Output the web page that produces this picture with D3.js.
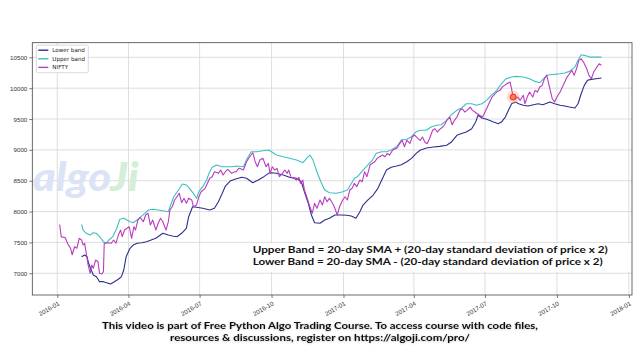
<!DOCTYPE html>
<html>
<head>
<meta charset="utf-8">
<script src="https://d3js.org/d3.v7.min.js"></script>
<style>
  body { margin: 0; background: #fff; }
  svg { display: block; }
</style>
</head>
<body>
<div id="chart"></div>
<script>
// ---- data ----
var niftyDates = ["2016-01-04","2016-01-06","2016-01-11","2016-01-15","2016-01-18","2016-01-20","2016-01-23","2016-01-26","2016-01-29",
  "2016-02-01","2016-02-03","2016-02-05","2016-02-07","2016-02-09","2016-02-12","2016-02-14","2016-02-16","2016-02-19","2016-02-22","2016-02-24","2016-02-27","2016-02-29",
  "2016-03-01","2016-03-06","2016-03-10","2016-03-13","2016-03-16","2016-03-19","2016-03-22","2016-03-24","2016-03-27","2016-03-30",
  "2016-04-02","2016-04-05","2016-04-08","2016-04-10","2016-04-13","2016-04-16","2016-04-20","2016-04-23","2016-04-26","2016-04-29",
  "2016-05-02","2016-05-06","2016-05-09","2016-05-12","2016-05-15","2016-05-19","2016-05-22","2016-05-24","2016-05-27","2016-05-30",
  "2016-06-02","2016-06-05","2016-06-08","2016-06-11","2016-06-14","2016-06-17","2016-06-21","2016-06-23","2016-06-27","2016-06-30",
  "2016-07-03","2016-07-08","2016-07-11","2016-07-14","2016-07-17","2016-07-20","2016-07-25","2016-07-28","2016-07-31",
  "2016-08-03","2016-08-06","2016-08-11","2016-08-15","2016-08-17","2016-08-19","2016-08-21","2016-08-26","2016-08-30",
  "2016-09-03","2016-09-07","2016-09-10","2016-09-13","2016-09-16","2016-09-20","2016-09-24","2016-09-27","2016-09-29",
  "2016-10-02","2016-10-05","2016-10-08","2016-10-11","2016-10-15","2016-10-18","2016-10-21","2016-10-23","2016-10-26","2016-10-29",
  "2016-11-02","2016-11-05","2016-11-07","2016-11-10","2016-11-12","2016-11-15","2016-11-19","2016-11-22","2016-11-25","2016-11-28",
  "2016-12-02","2016-12-05","2016-12-08","2016-12-11","2016-12-14","2016-12-18","2016-12-21","2016-12-24","2016-12-27","2016-12-31",
  "2017-01-03","2017-01-06","2017-01-09","2017-01-12","2017-01-15","2017-01-18","2017-01-22","2017-01-25","2017-01-28","2017-01-31",
  "2017-02-04","2017-02-07","2017-02-10","2017-02-13","2017-02-16","2017-02-20","2017-02-23","2017-02-26",
  "2017-03-01","2017-03-05","2017-03-10","2017-03-14","2017-03-17","2017-03-20","2017-03-23","2017-03-27","2017-03-30",
  "2017-04-02","2017-04-06","2017-04-09","2017-04-12","2017-04-15","2017-04-18","2017-04-21","2017-04-25","2017-04-28",
  "2017-05-01","2017-05-04","2017-05-08","2017-05-11","2017-05-13","2017-05-17","2017-05-20","2017-05-23","2017-05-26","2017-05-30",
  "2017-06-02","2017-06-05","2017-06-08","2017-06-12","2017-06-15","2017-06-18","2017-06-21","2017-06-24","2017-06-28",
  "2017-07-01","2017-07-04","2017-07-07","2017-07-10","2017-07-14","2017-07-16","2017-07-20","2017-07-23","2017-07-26","2017-07-29",
  "2017-08-02","2017-08-04","2017-08-06","2017-08-09","2017-08-12","2017-08-15","2017-08-19","2017-08-21","2017-08-24","2017-08-27","2017-08-31",
  "2017-09-03","2017-09-06","2017-09-09","2017-09-12","2017-09-15","2017-09-18","2017-09-22","2017-09-25","2017-09-28",
  "2017-10-01","2017-10-05","2017-10-08","2017-10-11","2017-10-14","2017-10-17","2017-10-20","2017-10-23","2017-10-26","2017-10-29",
  "2017-11-01","2017-11-04","2017-11-08","2017-11-11","2017-11-14","2017-11-17","2017-11-21","2017-11-24","2017-11-27"];
var niftyValues = [7790,7590,7580,7460,7405,7300,7430,7405,7567,
  7540,7458,7486,7324,7162,7000,7134,7081,7215,7188,7000,6989,7026,
  7486,7496,7486,7539,7486,7620,7701,7593,7701,7729,
  7755,7567,7755,7701,7863,7907,7836,7944,7972,7782,
  7863,7701,7810,7891,7836,7701,7836,8025,8079,8187,
  8241,8296,8144,8215,8134,8215,8187,8079,8106,8241,
  8322,8377,8458,8539,8565,8646,8620,8673,8592,
  8646,8685,8620,8646,8646,8685,8701,8673,8808,
  8889,8954,8808,8727,8835,8863,8727,8782,8620,
  8727,8673,8701,8565,8620,8673,8620,8673,8555,8539,
  8511,8555,8458,8511,8349,8241,8079,7972,8134,8053,
  8187,8106,8241,8160,8215,8134,8053,7944,8079,8187,
  8241,8187,8349,8377,8458,8403,8511,8484,8646,8565,
  8754,8782,8808,8863,8889,8916,8889,8944,
  8916,8997,9025,9106,9159,9051,9159,9106,9213,
  9240,9187,9155,9208,9127,9100,9181,9317,9343,
  9289,9333,9370,9424,9479,9532,9407,9479,9532,9641,
  9667,9613,9641,9694,9641,9613,9586,9560,9532,
  9613,9694,9775,9856,9910,9937,9965,10018,10046,10072,
  10099,9990,9856,9829,9856,9803,9884,9748,9856,9937,9856,
  9965,9937,10018,10046,10153,10208,9990,9829,9775,
  9856,9937,10018,10099,10180,10234,10289,10208,10315,10451,
  10477,10423,10315,10208,10153,10261,10342,10396,10370];

var upperDates = ["2016-02-01","2016-02-03","2016-02-07","2016-02-12","2016-02-16","2016-02-20","2016-02-24","2016-02-29",
  "2016-03-03","2016-03-07","2016-03-12","2016-03-17","2016-03-21","2016-03-26","2016-03-30",
  "2016-04-03","2016-04-07","2016-04-12","2016-04-16","2016-04-22","2016-04-26",
  "2016-05-03","2016-05-09","2016-05-15","2016-05-22","2016-05-25","2016-05-29",
  "2016-06-04","2016-06-09","2016-06-14","2016-06-18","2016-06-23","2016-06-27","2016-06-30",
  "2016-07-05","2016-07-10","2016-07-13","2016-07-17","2016-07-23","2016-07-29",
  "2016-08-04","2016-08-11","2016-08-17","2016-08-26","2016-08-31",
  "2016-09-05","2016-09-12","2016-09-20","2016-09-27",
  "2016-10-01","2016-10-07","2016-10-16","2016-10-24",
  "2016-11-02","2016-11-10","2016-11-15","2016-11-19","2016-11-23","2016-11-28",
  "2016-12-03","2016-12-08","2016-12-14","2016-12-23","2016-12-31",
  "2017-01-06","2017-01-10","2017-01-15","2017-01-19","2017-01-26",
  "2017-02-01","2017-02-07","2017-02-12","2017-02-19","2017-02-25",
  "2017-03-03","2017-03-10","2017-03-16","2017-03-23","2017-03-29",
  "2017-04-04","2017-04-09","2017-04-17","2017-04-23","2017-04-30",
  "2017-05-06","2017-05-13","2017-05-19","2017-05-26",
  "2017-06-01","2017-06-07","2017-06-14","2017-06-20","2017-06-27",
  "2017-07-03","2017-07-09","2017-07-16","2017-07-22","2017-07-28",
  "2017-08-04","2017-08-10","2017-08-19","2017-08-27",
  "2017-09-03","2017-09-09","2017-09-13","2017-09-18","2017-09-22","2017-09-28",
  "2017-10-05","2017-10-11","2017-10-17","2017-10-24","2017-10-28",
  "2017-11-01","2017-11-05","2017-11-12","2017-11-20","2017-11-27"];
var upperValues = [7794,7701,7648,7620,7658,7648,7593,7512,
  7486,7539,7593,7729,7875,7891,7863,
  7836,7820,7863,7907,7972,8025,
  8037,8025,8014,7998,8106,8241,
  8349,8447,8431,8377,8296,8215,8322,
  8403,8511,8620,8717,8754,8727,
  8727,8727,8738,8727,8863,
  8970,8970,8986,8997,
  8970,8916,8889,8863,
  8835,8792,8863,8916,8835,8646,
  8484,8349,8306,8296,8322,
  8349,8430,8539,8565,8673,
  8754,8835,8944,8970,8970,
  8997,9051,9159,9171,9213,
  9294,9317,9317,9370,9398,
  9407,9479,9569,9641,
  9678,9748,9748,9722,9748,
  9803,9884,9965,10072,10153,
  10180,10191,10180,10153,
  10110,10088,10143,10208,10217,10224,
  10234,10245,10272,10342,10451,
  10541,10532,10504,10504,10504];

var lowerDates = ["2016-02-01","2016-02-05","2016-02-08","2016-02-10","2016-02-16","2016-02-20","2016-02-24","2016-02-29",
  "2016-03-04","2016-03-09","2016-03-14","2016-03-19","2016-03-23","2016-03-26","2016-03-29",
  "2016-04-03","2016-04-07","2016-04-12","2016-04-18","2016-04-24","2016-04-30",
  "2016-05-06","2016-05-10","2016-05-15","2016-05-22","2016-05-27",
  "2016-06-02","2016-06-08","2016-06-14","2016-06-17","2016-06-22","2016-06-27",
  "2016-07-05","2016-07-14","2016-07-20","2016-07-25","2016-07-29",
  "2016-08-03","2016-08-09","2016-08-15","2016-08-24","2016-08-30",
  "2016-09-07","2016-09-14","2016-09-20","2016-09-27",
  "2016-10-01","2016-10-07","2016-10-16","2016-10-24",
  "2016-11-02","2016-11-08","2016-11-12","2016-11-17","2016-11-21","2016-11-25",
  "2016-12-02","2016-12-08","2016-12-14","2016-12-21","2016-12-29",
  "2017-01-05","2017-01-11","2017-01-17","2017-01-22","2017-01-26",
  "2017-02-01","2017-02-08","2017-02-14","2017-02-20","2017-02-25",
  "2017-03-03","2017-03-10","2017-03-16","2017-03-23","2017-03-29",
  "2017-04-04","2017-04-09","2017-04-17","2017-04-26",
  "2017-05-04","2017-05-13","2017-05-19","2017-05-26",
  "2017-06-01","2017-06-07","2017-06-14","2017-06-19","2017-06-22","2017-06-27",
  "2017-07-03","2017-07-12","2017-07-18","2017-07-22","2017-07-27","2017-07-31",
  "2017-08-04","2017-08-09","2017-08-13","2017-08-19","2017-08-25",
  "2017-09-01","2017-09-07","2017-09-13","2017-09-22","2017-09-28",
  "2017-10-05","2017-10-11","2017-10-17","2017-10-24","2017-10-28",
  "2017-11-01","2017-11-05","2017-11-09","2017-11-14","2017-11-20","2017-11-27"];
var lowerValues = [7269,7296,7269,7162,6972,6945,6864,6864,
  6848,6827,6864,6903,6945,7053,7269,
  7405,7458,7486,7496,7512,7539,
  7567,7604,7648,7620,7604,
  7593,7648,7729,7917,8079,8069,
  8053,8025,8053,8160,8268,
  8414,8495,8523,8555,8539,
  8468,8511,8555,8620,
  8630,8620,8592,8555,
  8539,8484,8322,8134,7944,7820,
  7810,7863,7891,7944,7944,
  7940,7928,7891,7998,8106,
  8187,8268,8377,8539,8673,
  8717,8738,8759,8808,8863,
  8944,8993,9030,9046,
  9057,9074,9127,9236,
  9265,9289,9343,9451,9560,9516,
  9495,9451,9424,9451,9532,9641,
  9748,9775,9748,9722,9710,
  9731,9748,9731,9775,9748,
  9722,9710,9694,9678,9748,
  9910,10046,10127,10143,10153,10164];

var seriesNames = ["Lower band", "Upper band", "NIFTY"];
var yTicks = [7000, 7500, 8000, 8500, 9000, 9500, 10000, 10500];
var xTickLabels = ["2016-01","2016-04","2016-07","2016-10","2017-01","2017-04","2017-07","2017-10","2018-01"];
var cursorPoint = {date: "2017-08-06", value: 9856};
var noteLines = ["Upper Band = 20-day SMA + (20-day standard deviation of price x 2)",
                 "Lower Band = 20-day SMA - (20-day standard deviation of price x 2)"];
var captionLines = ["This video is part of Free Python Algo Trading Course. To access course with code files,",
                    "resources & discussions, register on https://algoji.com/pro/"];

// ---- layout ----
var width = 640, height = 360;
var margin = {top: 42.7, right: 8, bottom: 65, left: 32.3};
var plotW = width - margin.left - margin.right,
    plotH = height - margin.top - margin.bottom;

var colors = {"Lower band": "#2d2f8e", "Upper band": "#3fbfbf", "NIFTY": "#b93cbf"};

var parse = d3.utcParse("%Y-%m-%d");
var parseMonth = d3.utcParse("%Y-%m");

var svg = d3.select("#chart").append("svg")
    .attr("width", width)
    .attr("height", height)
    .style("font-family", "'DejaVu Sans', sans-serif");

svg.append("rect").attr("width", width).attr("height", height).attr("fill", "#fff");

var g = svg.append("g")
    .attr("transform", "translate(" + margin.left + "," + margin.top + ")");

// x limits like matplotlib's 5% margins around the data
var x = d3.scaleUtc()
    .domain([parse("2015-11-30"), parse("2018-01-05")])
    .range([0, plotW]);

var y = d3.scaleLinear()
    .domain([6648, 10737])
    .range([plotH, 0]);

var xTicks = xTickLabels.map(function(s) { return parseMonth(s); });

// grid
g.append("g").selectAll("line")
  .data(yTicks).enter().append("line")
    .attr("x1", 0).attr("x2", plotW)
    .attr("y1", function(d) { return y(d); })
    .attr("y2", function(d) { return y(d); })
    .attr("stroke", "#d6d6d6").attr("stroke-width", 0.8);
g.append("g").selectAll("line")
  .data(xTicks).enter().append("line")
    .attr("y1", 0).attr("y2", plotH)
    .attr("x1", function(d) { return x(d); })
    .attr("x2", function(d) { return x(d); })
    .attr("stroke", "#d6d6d6").attr("stroke-width", 0.8);

// axes
var yAxis = g.append("g")
    .call(d3.axisLeft(y).tickValues(yTicks).tickSize(3).tickSizeOuter(0).tickPadding(2).tickFormat(d3.format("d")));
yAxis.select(".domain").remove();
yAxis.selectAll("line").attr("stroke", "#444").attr("stroke-width", 0.7);
yAxis.selectAll("text").style("font-size", "6.2px").attr("fill", "#333");

var xAxis = g.append("g")
    .attr("transform", "translate(0," + plotH + ")")
    .call(d3.axisBottom(x).tickValues(xTicks).tickSize(3).tickSizeOuter(0).tickFormat(d3.utcFormat("%Y-%m")));
xAxis.select(".domain").remove();
xAxis.selectAll("line").attr("stroke", "#444").attr("stroke-width", 0.7);
xAxis.selectAll("text")
    .style("font-size", "6.2px").attr("fill", "#333")
    .attr("text-anchor", "end")
    .attr("x", 0).attr("y", 0).attr("dy", "0.35em")
    .attr("transform", "translate(1,8) rotate(-30)");

// lines
var line = d3.line()
    .x(function(d) { return x(d.date); })
    .y(function(d) { return y(d.value); });

function zipSeries(dates, values) {
  return dates.map(function(s, i) { return {date: parse(s), value: values[i]}; });
}
var series = [
  {name: "Lower band", data: zipSeries(lowerDates, lowerValues)},
  {name: "Upper band", data: zipSeries(upperDates, upperValues)},
  {name: "NIFTY", data: zipSeries(niftyDates, niftyValues)}
];

g.append("g").selectAll("path")
  .data(series).enter().append("path")
    .attr("d", function(d) { return line(d.data); })
    .attr("fill", "none")
    .attr("stroke", function(d) { return colors[d.name]; })
    .attr("stroke-width", 1.1)
    .attr("stroke-linejoin", "round");

// watermark
var wm = g.append("text")
    .attr("x", 0.5).attr("y", 148.5)
    .attr("textLength", 106).attr("lengthAdjust", "spacingAndGlyphs")
    .style("font-family", "'Lato', sans-serif")
    .style("font-weight", "900").style("font-style", "italic")
    .style("font-size", "40px");
wm.append("tspan").attr("fill", "#dbe4f6").text("algo");
wm.append("tspan").attr("fill", "#d4efd9").text("Ji");

// frame
g.append("rect")
    .attr("width", plotW).attr("height", plotH)
    .attr("fill", "none").attr("stroke", "#444").attr("stroke-width", 0.8);

// legend
var legend = g.append("g").attr("transform", "translate(4,2.5)");
legend.append("rect")
    .attr("width", 52).attr("height", 27.5).attr("rx", 1.5)
    .attr("fill", "#fff").attr("fill-opacity", 0.85)
    .attr("stroke", "#cccccc").attr("stroke-width", 0.7);
var items = legend.selectAll("g.item").data(seriesNames).enter().append("g")
    .attr("class", "item")
    .attr("transform", function(d, i) { return "translate(0," + (5 + i * 8.6) + ")"; });
items.append("line")
    .attr("x1", 2).attr("x2", 12)
    .attr("stroke", function(d) { return colors[d]; })
    .attr("stroke-width", 1.4);
items.append("text")
    .attr("x", 16).attr("dy", "0.35em")
    .style("font-size", "5.6px").attr("fill", "#222")
    .text(function(d) { return d; });

// cursor highlight
var cx = x(parse(cursorPoint.date)), cy = y(cursorPoint.value);
g.append("circle").attr("cx", cx).attr("cy", cy).attr("r", 6.5)
    .attr("fill", "#ff8a6a").attr("fill-opacity", 0.3);
g.append("circle").attr("cx", cx).attr("cy", cy).attr("r", 3)
    .attr("fill", "#ff7a55").attr("stroke", "#e0301c").attr("stroke-width", 1);

// formula note box
var note = svg.append("g");
note.append("rect")
    .attr("x", 246).attr("y", 243.5).attr("width", 385).attr("height", 28.5)
    .attr("fill", "#fff");
note.selectAll("text").data(noteLines).enter().append("text")
    .attr("x", 252.7)
    .attr("y", function(d, i) { return 253 + i * 12; })
    .attr("textLength", function(d, i) { return i === 0 ? 355 : 350; })
    .attr("lengthAdjust", "spacingAndGlyphs")
    .style("font-family", "'Lato', sans-serif")
    .style("font-weight", "700").style("font-size", "10px")
    .attr("fill", "#111")
    .text(function(d) { return d; });

// caption
svg.append("defs").append("filter").attr("id", "shadow")
  .append("feDropShadow").attr("dx", 0).attr("dy", 0.5).attr("stdDeviation", 1)
  .attr("flood-color", "#000").attr("flood-opacity", 0.25);
svg.append("g").selectAll("text").data(captionLines).enter().append("text")
    .attr("x", 320)
    .attr("y", function(d, i) { return 329 + i * 12.2; })
    .attr("text-anchor", "middle")
    .attr("textLength", function(d, i) { return i === 0 ? 436 : 300; })
    .attr("lengthAdjust", "spacingAndGlyphs")
    .style("font-family", "'Lato', sans-serif")
    .style("font-weight", "700").style("font-size", "9.8px")
    .attr("fill", "#111")
    .attr("filter", "url(#shadow)")
    .text(function(d) { return d; });
</script>
</body>
</html>
